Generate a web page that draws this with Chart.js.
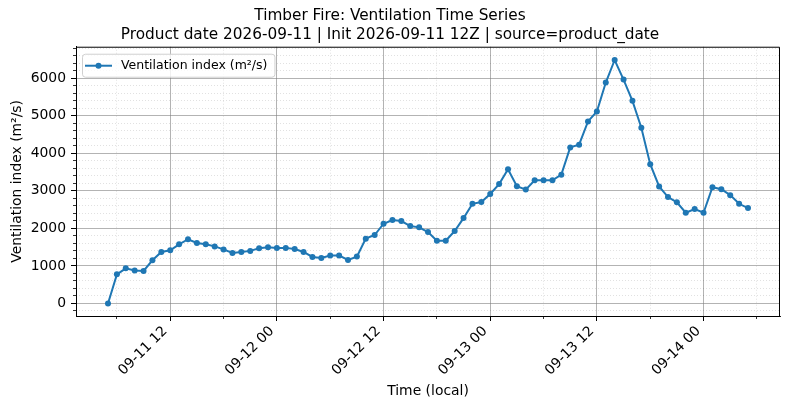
<!DOCTYPE html>
<html>
<head>
<meta charset="utf-8">
<script src="https://cdn.jsdelivr.net/npm/chart.js@4.4.1/dist/chart.umd.min.js"></script>
<style>
  html, body { margin: 0; padding: 0; background: #fff; }
  #wrap { width: 790px; height: 409px; }
</style>
</head>
<body>
<div id="wrap"><canvas id="ventChart" width="790" height="409"></canvas></div>
<script>
// 시각 (local, MM-DD HH)
const times = [
	'09-11 05','09-11 06','09-11 07','09-11 08','09-11 09','09-11 10','09-11 11','09-11 12',
	'09-11 13','09-11 14','09-11 15','09-11 16','09-11 17','09-11 18','09-11 19','09-11 20',
	'09-11 21','09-11 22','09-11 23',
	'09-12 00','09-12 01','09-12 02','09-12 03','09-12 04','09-12 05','09-12 06','09-12 07',
	'09-12 08','09-12 09','09-12 10','09-12 11','09-12 12','09-12 13','09-12 14','09-12 15',
	'09-12 16','09-12 17','09-12 18','09-12 19','09-12 20','09-12 21','09-12 22','09-12 23',
	'09-13 00','09-13 01','09-13 02','09-13 03','09-13 04','09-13 05','09-13 06','09-13 07',
	'09-13 08','09-13 09','09-13 10','09-13 11','09-13 12','09-13 13','09-13 14','09-13 15',
	'09-13 16','09-13 17','09-13 18','09-13 19','09-13 20','09-13 21','09-13 22','09-13 23',
	'09-14 00','09-14 01','09-14 02','09-14 03','09-14 04','09-14 05'
];

// 환기지수 (m²/s)
const ventValues = [
	0, 775, 935, 880, 865, 1150, 1370, 1415, 1575, 1710, 1610, 1575, 1520, 1440, 1345, 1370,
	1400, 1470, 1495,
	1480, 1480, 1450, 1372, 1239, 1212, 1274, 1274, 1159, 1248, 1726, 1823, 2124, 2221, 2195,
	2062, 2027, 1903, 1673, 1673, 1929, 2274, 2655, 2700,
	2915, 3180, 3573, 3121, 3033, 3281, 3281, 3281, 3431, 4158, 4229, 4849, 5114, 5885, 6487,
	5965, 5398, 4680, 3710, 3118, 2835, 2693, 2416, 2513,
	2416, 3097, 3044, 2885, 2655, 2540
];

// y축 눈금
const yTickValues = [0, 1000, 2000, 3000, 4000, 5000, 6000];

const titleLines = [
	'Timber Fire: Ventilation Time Series',
	'Product date 2026-09-11 | Init 2026-09-11 12Z | source=product_date'
];
const seriesLabel = 'Ventilation index (m²/s)';
const xTitle = 'Time (local)';
const yTitle = 'Ventilation index (m²/s)';

const FONT = 'DejaVu Sans';
const BLUE = '#1f77b4';
const MAJOR_GRID = 'rgba(128,128,128,0.75)';
const MINOR_GRID = 'rgba(0,0,0,0.2)';

// 'MM-DD HH' -> 09-11 00시 기준 경과 시간
function toHours(s) {
	let day = parseInt(s.substr(3, 2), 10);
	let hour = parseInt(s.substr(6, 2), 10);
	return (day - 11) * 24 + hour;
}

function fmtTick(v) {
	let day = 11 + Math.floor(v / 24);
	let hour = v % 24;
	return '09-' + String(day).padStart(2, '0') + ' ' + String(hour).padStart(2, '0');
}

let points = times.map(function(t, i) {
	return { x: toHours(t), y: ventValues[i] };
});

const xMin = 1.4, xMax = 80.6;
const yMin = -335, yMax = 6840;

// 보조 눈금 (200 간격)
function minorYTicks(scale) {
	let list = [];
	for (let v = Math.ceil(scale.min / 200) * 200; v <= scale.max; v += 200) {
		if (v % 1000 !== 0) list.push({ value: v });
	}
	scale.ticks = list;
}

// 그래프 테두리 + 범례 (axes 안쪽 좌상단)
const frameLegend = {
	id: 'frameLegend',
	afterDraw: function(chart) {
		const ctx = chart.ctx;
		const a = chart.chartArea;
		ctx.save();
		ctx.strokeStyle = '#000';
		ctx.lineWidth = 1;
		ctx.beginPath();
		ctx.moveTo(a.left, a.top + 0.5);
		ctx.lineTo(a.right - 0.5, a.top + 0.5);
		ctx.lineTo(a.right - 0.5, a.bottom);
		ctx.stroke();

		ctx.font = '12.5px "' + FONT + '"';
		const tw = ctx.measureText(seriesLabel).width;
		const bx = a.left + 6, by = a.top + 7, bh = 23;
		const bw = 39 + tw + 7;
		ctx.beginPath();
		ctx.roundRect(bx + 0.5, by + 0.5, bw, bh, 3);
		ctx.fillStyle = 'rgba(255,255,255,0.8)';
		ctx.fill();
		ctx.strokeStyle = '#d0d0d0';
		ctx.lineWidth = 1;
		ctx.stroke();

		const cy = by + bh / 2 + 0.5;
		ctx.strokeStyle = BLUE;
		ctx.lineWidth = 2;
		ctx.beginPath();
		ctx.moveTo(bx + 3, cy);
		ctx.lineTo(bx + 30, cy);
		ctx.stroke();
		ctx.fillStyle = BLUE;
		ctx.beginPath();
		ctx.arc(bx + 16.5, cy, 3, 0, Math.PI * 2);
		ctx.fill();

		ctx.fillStyle = '#000';
		ctx.textBaseline = 'middle';
		ctx.textAlign = 'left';
		ctx.fillText(seriesLabel, bx + 39, cy);
		ctx.restore();
	}
};

let ctx = document.getElementById('ventChart').getContext('2d');
let ventChart = new Chart(ctx, {
	type: 'line',
	data: {
		datasets: [{
			label: seriesLabel,
			data: points,
			xAxisID: 'x',
			yAxisID: 'y',
			borderColor: BLUE,
			backgroundColor: BLUE,
			borderWidth: 2,
			pointRadius: 3,
			pointHoverRadius: 3,
			pointBorderWidth: 0,
			pointBackgroundColor: BLUE,
			tension: 0,
			fill: false
		}]
	},
	options: {
		responsive: false,
		animation: false,
		layout: { padding: { left: 0, right: 10, top: 0, bottom: 0 } },
		plugins: {
			legend: { display: false },
			tooltip: { enabled: false },
			title: {
				display: true,
				text: titleLines,
				color: '#000',
				font: { family: FONT, size: 15.3, weight: 'normal', lineHeight: 1.2 },
				padding: { top: 7, bottom: 3 }
			}
		},
		scales: {
			x: {
				type: 'linear',
				position: 'bottom',
				weight: 1,
				min: xMin,
				max: xMax,
				afterFit: function(s) { s.height = 93; },
				border: { color: '#000', width: 1 },
				grid: { color: MAJOR_GRID, lineWidth: 0.8, tickColor: '#000', tickLength: 5, tickWidth: 1 },
				ticks: {
					stepSize: 12, maxTicksLimit: 100, includeBounds: false, autoSkip: false,
					minRotation: 45, maxRotation: 45, padding: 2, labelOffset: -5,
					color: '#000', font: { family: FONT, size: 13.9 },
					callback: function(v) { return fmtTick(v); }
				},
				title: {
					display: true, text: xTitle, color: '#000',
					font: { family: FONT, size: 13.9 },
					padding: { top: 0, bottom: 9 }
				}
			},
			xMinor: {
				type: 'linear',
				position: 'bottom',
				weight: 0,
				min: xMin,
				max: xMax,
				afterFit: function(s) { s.height = 0; },
				border: { display: false, dash: [1, 2] },
				grid: {
					color: function(c) { return (c.tick && c.tick.value % 12 === 0) ? 'rgba(0,0,0,0)' : MINOR_GRID; },
					lineWidth: 0.6, tickColor: '#000', tickLength: 3, tickWidth: 0.8
				},
				ticks: { display: false, stepSize: 6, maxTicksLimit: 100, includeBounds: false, autoSkip: false }
			},
			y: {
				type: 'linear',
				position: 'left',
				weight: 1,
				min: yMin,
				max: yMax,
				afterBuildTicks: function(s) {
					s.ticks = yTickValues.map(function(v) { return { value: v }; });
				},
				afterFit: function(s) { s.width = 76; },
				border: { color: '#000', width: 1 },
				grid: { color: MAJOR_GRID, lineWidth: 0.8, tickColor: '#000', tickLength: 5, tickWidth: 1 },
				ticks: {
					padding: 5,
					color: '#000', font: { family: FONT, size: 13.9 },
					callback: function(v) { return String(v); }
				},
				title: {
					display: true, text: yTitle, color: '#000',
					font: { family: FONT, size: 13.9 },
					padding: { top: 9, bottom: 0 }
				}
			},
			yMinor: {
				type: 'linear',
				position: 'left',
				weight: 0,
				min: yMin,
				max: yMax,
				afterBuildTicks: minorYTicks,
				afterFit: function(s) { s.width = 0; },
				border: { display: false, dash: [1, 2] },
				grid: { color: MINOR_GRID, lineWidth: 0.6, tickColor: '#000', tickLength: 3, tickWidth: 0.8 },
				ticks: { display: false }
			}
		}
	},
	plugins: [frameLegend]
});
</script>
</body>
</html>
